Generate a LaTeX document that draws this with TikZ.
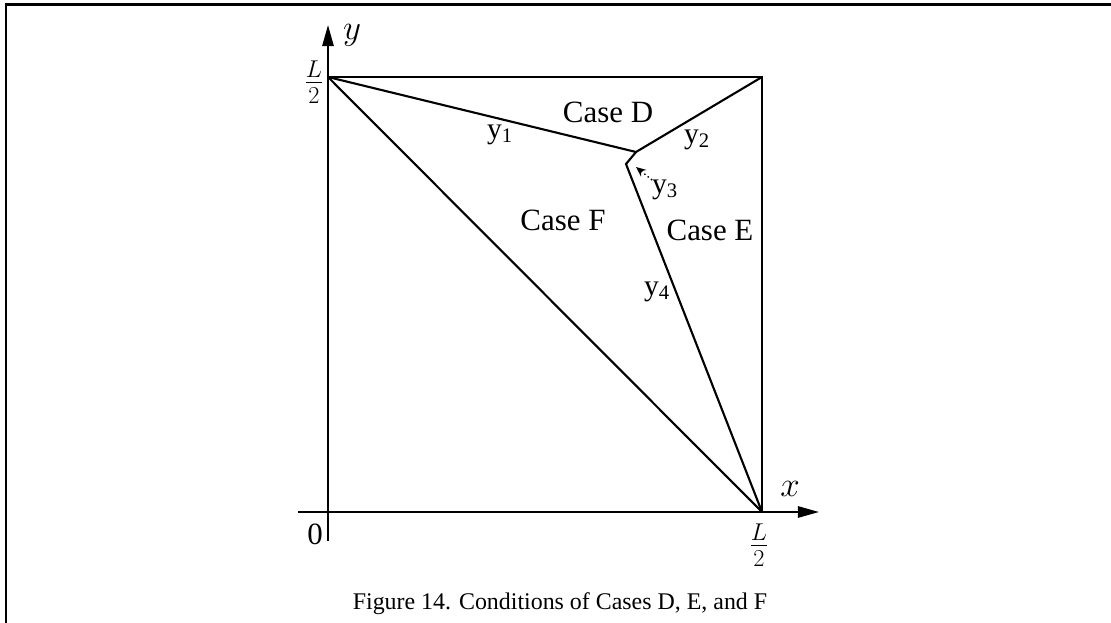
\documentclass[tikz,border=0pt]{standalone}
\usepackage{fontspec}
\setmainfont{Liberation Serif}
\usepackage{amsmath}
\usetikzlibrary{arrows.meta, positioning}

\begin{document}
\begin{tikzpicture}[
    x=0.025cm,
    y=-0.025cm,
    borde/.style={line width=1.8pt},
    linea/.style={line width=1.5pt},
    eje/.style={line width=1.5pt, -{Triangle[length=15pt, width=8pt]}},
    caso/.style={font=\fontsize{22}{26}\selectfont, inner sep=0pt},
    rama/.style={font=\fontsize{21}{24}\selectfont, inner sep=0pt},
    marca/.style={font=\fontsize{27}{30}\selectfont, inner sep=0pt}
]

\useasboundingbox (0,0) rectangle (1111,623);

% Marco
\draw[borde] (6,623) -- (6,4.3) -- (1111,4.3);

% Puntos
\coordinate (O) at (328,512);
\coordinate (A) at (328,77);
\coordinate (B) at (762,77);
\coordinate (C) at (762,512);
\coordinate (P) at (636,152);
\coordinate (Q) at (626,164);
\coordinate (xini) at (298,512);
\coordinate (xfin) at (819,512);
\coordinate (yini) at (328,541);
\coordinate (yfin) at (328,25);

% Ejes
\draw[eje] (xini) -- (xfin);
\draw[eje] (yini) -- (yfin);
\node[font=\fontsize{26}{28}\selectfont, inner sep=0pt] (xlab) at (790,489) {$x$};
\node[font=\fontsize{26}{28}\selectfont, inner sep=0pt] (ylab) at (352,35) {$y$};
\node[font=\fontsize{22}{26}\selectfont, inner sep=0pt] (cero) at (315,534) {0};
\node[marca] (Ly) at (314,82) {$\frac{L}{2}$};
\node[marca] (Lx) at (759,545) {$\frac{L}{2}$};

% Cuadrado y diagonal
\draw[linea] (A) -- (B) -- (C);
\draw[linea] (A) -- (C);

% Fronteras y1..y4
\draw[linea] (A) -- (P) -- (B);
\draw[linea] (P) -- (Q) -- (C);

% Regiones
\node[caso] (caseD) at (608,112) {Case D};
\node[caso] (caseF) at (563,220) {Case F};
\node[caso] (caseE) at (710,230) {Case E};

% Etiquetas
\node[rama] (y1) at (500,135) {y\textsubscript{1}};
\node[rama] (y2) at (697,140) {y\textsubscript{2}};
\node[rama] (y3) at (665,190) {y\textsubscript{3}};
\node[rama] (y4) at (657,292) {y\textsubscript{4}};
\coordinate (flecha) at (652,180);
\coordinate (punta) at (636,167);
\draw[dotted, line width=1pt, -{Stealth[length=7pt, width=6pt]}] (flecha) -- (punta);

% Pie
\node[font=\fontsize{17}{20}\selectfont, inner sep=0pt] (pie) at (560,604) {Figure 14. Conditions of Cases D, E, and F};

\end{tikzpicture}
\end{document}
